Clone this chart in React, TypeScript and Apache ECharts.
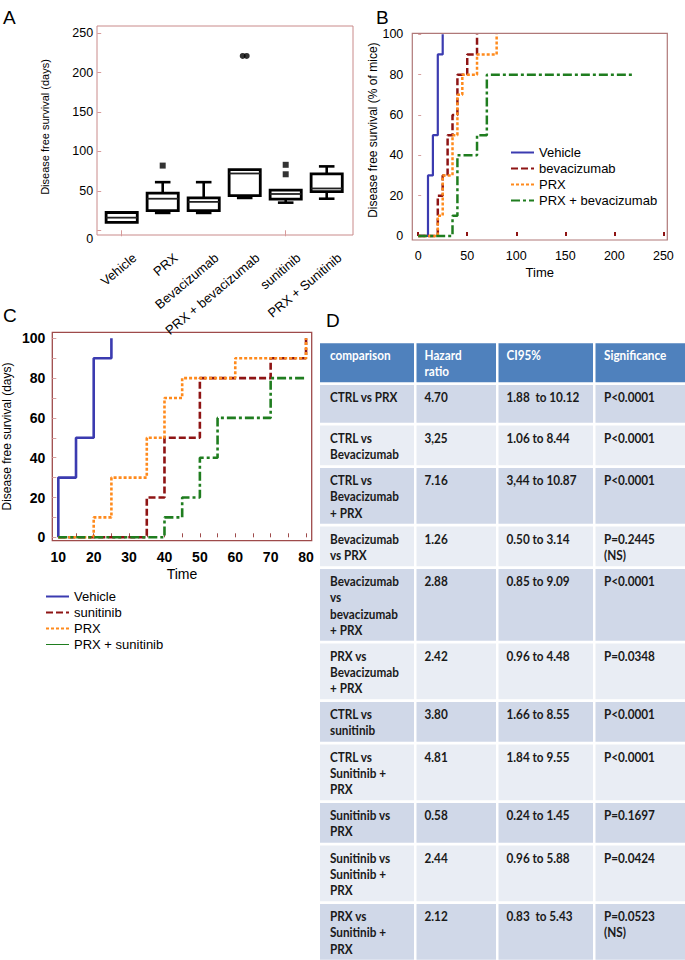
import React, { useEffect, useRef } from 'react';
import * as echarts from 'echarts';

const FONT = "'Liberation Sans', Arial, sans-serif";
const TFONT = "Lato, 'Open Sans', sans-serif";

// ---------- Panel A : box plot ----------
const boxCategories = ['Vehicle', 'PRX', 'Bevacizumab', 'PRX + bevacizumab', 'sunitinib', 'PRX + Sunitinib'];
// [min, Q1, median, Q3, max]
const boxStats = [
  [10, 10, 16, 22.5, 22.5],
  [22, 25, 40, 47, 61],
  [22, 25, 36, 41, 61],
  [41, 44, 72, 77, 77],
  [35, 39.5, 46, 51, 51],
  [40, 49, 53, 71.5, 81],
];
const boxOutliers = [[1, 82], [3, 221], [3, 221], [4, 83], [4, 71]];
const boxYTicks = [0, 50, 100, 150, 200, 250];

// ---------- Panel B : survival curves ----------
const bVehicle = [[0, 0], [10, 30], [15, 50], [20, 90], [25, 100]];
const bBevacizumab = [[0, 0], [20, 20], [25, 30], [30, 50], [35, 60], [40, 80], [50, 90], [60, 100]];
const bPRX = [[0, 0], [20, 10], [25, 30], [35, 50], [40, 70], [45, 80], [60, 90], [80, 100]];
const bPRXBev = [[0, 0], [35, 10], [40, 40], [60, 50], [70, 80], [220, 80]];
const bXTicks = [0, 50, 100, 150, 200, 250];
const bYTicks = [0, 20, 40, 60, 80, 100];

// ---------- Panel C : survival curves ----------
const cVehicle = [[10, 0], [10, 30], [15, 50], [20, 90], [25, 100]];
const cSunitinib = [[10, 0], [35, 20], [40, 50], [50, 80], [70, 90], [80, 100]];
const cPRX = [[10, 0], [20, 10], [25, 30], [35, 50], [40, 70], [45, 80], [60, 90], [80, 100]];
const cPRXSun = [[10, 0], [40, 10], [45, 20], [50, 40], [55, 60], [70, 80], [80, 80]];
const cXTicks = [10, 20, 30, 40, 50, 60, 70, 80];
const cXMinorTicks = [10, 15, 20, 25, 30, 35, 40, 45, 50, 55, 60, 65, 70, 75, 80];
const cYTicks = [0, 20, 40, 60, 80, 100];
const cYMinorTicks = [0, 10, 20, 30, 40, 50, 60, 70, 80, 90, 100];

// ---------- Panel D : table ----------
const tableHeader = ['comparison', 'Hazard\nratio', 'CI95%', 'Significance'];
const comparisons = [
  'CTRL vs PRX',
  'CTRL vs\nBevacizumab',
  'CTRL vs\nBevacizumab\n+ PRX',
  'Bevacizumab\nvs PRX',
  'Bevacizumab\nvs\nbevacizumab\n+ PRX',
  'PRX vs\nBevacizumab\n+ PRX',
  'CTRL vs\nsunitinib',
  'CTRL vs\nSunitinib +\nPRX',
  'Sunitinib vs\nPRX',
  'Sunitinib vs\nSunitinib +\nPRX',
  'PRX vs\nSunitinib +\nPRX',
];
const hazardRatios = ['4.70', '3,25', '7.16', '1.26', '2.88', '2.42', '3.80', '4.81', '0.58', '2.44', '2.12'];
const ci95 = ['1.88  to 10.12', '1.06 to 8.44', '3,44 to 10.87', '0.50 to 3.14', '0.85 to 9.09', '0.96 to 4.48', '1.66 to 8.55', '1.84 to 9.55', '0.24 to 1.45', '0.96 to 5.88', '0.83  to 5.43'];
const significance = ['P<0.0001', 'P<0.0001', 'P<0.0001', 'P=0.2445\n(NS)', 'P<0.0001', 'P=0.0348', 'P<0.0001', 'P<0.0001', 'P=0.1697', 'P=0.0424', 'P=0.0523\n(NS)'];

const BLUE = '#3b3bb0';
const DRED = '#8e1414';
const ORANGE = '#ff8a1c';
const GREEN = '#1f7d1f';

const A_YMIN = -6;
const A_YMAX = 259;

function buildTable(): any[] {
  const els: any[] = [];
  const colX = [320, 416.5, 498.5, 595.5];
  const colW = [94, 79.5, 94.5, 89.5];
  const pad = [10, 8, 8, 8.5];
  const gap = 2.7;
  const txt = (x: number, y: number, text: string, color: string) => ({
    type: 'text', x, y, scaleX: 0.87, silent: true,
    style: { text, fill: color, fontFamily: TFONT, fontWeight: 'bold', fontSize: 13.5, lineHeight: 16.2, align: 'left', verticalAlign: 'top' },
  });
  let top = 343.3;
  const headerH = 39;
  tableHeader.forEach((h, c) => {
    els.push({ type: 'rect', silent: true, shape: { x: colX[c], y: top, width: colW[c], height: headerH }, style: { fill: '#4f81bd' } });
    els.push(txt(colX[c] + pad[c], top + 4, h, '#ffffff'));
  });
  top += headerH + gap;
  comparisons.forEach((comp, r) => {
    const cells = [comp, hazardRatios[r], ci95[r], significance[r]];
    const n = Math.max(...cells.map((s) => s.split('\n').length));
    const pitch = n <= 1 ? 40.4 : 10.5 + 16 * n;
    const fill = r % 2 === 0 ? '#d0d8e8' : '#e9edf4';
    cells.forEach((s, c) => {
      els.push({ type: 'rect', silent: true, shape: { x: colX[c], y: top, width: colW[c], height: pitch - gap }, style: { fill } });
      els.push(txt(colX[c] + pad[c], top + 4.5, s, '#1a1a1a'));
    });
    top += pitch;
  });
  return els;
}

const letter = (t: string, x: number, y: number) => ({
  type: 'text', x, y, silent: true,
  style: { text: t, fill: '#000', fontFamily: FONT, fontSize: 19, align: 'left', verticalAlign: 'top' },
});

export default function App() {
  const ref = useRef<HTMLDivElement>(null);
  useEffect(() => {
    if (!ref.current) return;
    const chart = echarts.init(ref.current, null, { renderer: 'svg' });

    const seen: Record<string, number> = {};
    const outlierData = boxOutliers.map((p) => {
      const key = p.join(',');
      const dup = boxOutliers.filter((q) => q.join(',') === key).length > 1;
      if (!dup) return { value: p, symbol: 'rect' };
      seen[key] = (seen[key] || 0) + 1;
      return { value: p, symbol: 'circle', symbolOffset: [seen[key] === 1 ? -2 : 2, 0] };
    });

    const lineSeries = (name: string, data: number[][], idx: number, color: string, type: any, width = 2.5) => ({
      name, type: 'line', xAxisIndex: idx, yAxisIndex: idx, data, step: 'end', symbol: 'none', showSymbol: false,
      lineStyle: { color, width, type, cap: 'butt' }, itemStyle: { color }, silent: true,
    });

    const labelStyle = { color: '#000', fontFamily: FONT };
    const rot = (40 * Math.PI) / 180;

    const option: any = {
      animation: false,
      backgroundColor: '#fff',
      grid: [
        { left: 101.2, top: 26, width: 246, height: 209 },
        { left: 412.3, top: 33.3, width: 255, height: 206.7, show: true, borderColor: '#b07878', borderWidth: 1.2 },
        { left: 52.3, top: 332.3, width: 259.4, height: 208.4, show: true, borderColor: '#9e4a4a', borderWidth: 1.3 },
      ],
      xAxis: [
        {
          gridIndex: 0, type: 'category', data: boxCategories, offset: 3,
          axisLine: { show: false },
          axisTick: { show: true, alignWithLabel: true, length: 6, lineStyle: { color: '#d79a9a', width: 1 } },
          axisLabel: { show: false },
        },
        {
          gridIndex: 1, type: 'value', min: -6, max: 254,
          axisLine: { show: false }, splitLine: { show: false },
          axisTick: { show: true, inside: true, length: 4, customValues: bXTicks, lineStyle: { color: '#8e1414', width: 2 } },
          axisLabel: { ...labelStyle, fontSize: 12.5, margin: 9, customValues: bXTicks },
          name: 'Time', nameLocation: 'middle', nameGap: 26, nameTextStyle: { ...labelStyle, fontSize: 13 },
        },
        {
          gridIndex: 2, type: 'value', min: 8.3, max: 81.6,
          axisLine: { show: false }, splitLine: { show: false },
          axisTick: { show: true, inside: true, length: 4, customValues: cXMinorTicks, lineStyle: { color: '#9e4a4a', width: 1 } },
          axisLabel: { ...labelStyle, fontSize: 14, fontWeight: 'bold', margin: 9, customValues: cXTicks },
          name: 'Time', nameLocation: 'middle', nameGap: 26, nameTextStyle: { ...labelStyle, fontSize: 14 },
        },
      ],
      yAxis: [
        {
          gridIndex: 0, type: 'value', min: A_YMIN, max: A_YMAX, offset: 4,
          axisLine: { show: false }, splitLine: { show: false },
          axisTick: { show: true, inside: true, length: 4, customValues: boxYTicks, lineStyle: { color: '#d79a9a' } },
          axisLabel: {
            ...labelStyle, fontSize: 12.5, margin: 4, customValues: boxYTicks,
            formatter: (v: number) => (v === 0 ? '{z|0}' : String(v)),
            rich: { z: { padding: [18, 0, 0, 0], fontSize: 12.5, fontFamily: FONT, color: '#000' } },
          },
          name: 'Disease free survival (days)', nameLocation: 'middle', nameGap: 47,
          nameTextStyle: { ...labelStyle, fontSize: 11, padding: [0, 0, 0, 7] },
        },
        {
          gridIndex: 1, type: 'value', min: -2, max: 100.5,
          axisLine: { show: false }, splitLine: { show: false },
          axisTick: { show: true, inside: true, length: 3, customValues: bYTicks, lineStyle: { color: '#d7a0a0' } },
          axisLabel: { ...labelStyle, fontSize: 12.5, margin: 9, customValues: bYTicks },
          name: 'Disease free survival (% of mice)', nameLocation: 'middle', nameGap: 32,
          nameTextStyle: { ...labelStyle, fontSize: 12, padding: [0, 0, 0, 13] },
        },
        {
          gridIndex: 2, type: 'value', min: -1.7, max: 103,
          axisLine: { show: false }, splitLine: { show: false },
          axisTick: { show: true, inside: true, length: 4, customValues: cYMinorTicks, lineStyle: { color: '#d7a0a0' } },
          axisLabel: { ...labelStyle, fontSize: 14, fontWeight: 'bold', margin: 7, customValues: cYTicks },
          name: 'Disease free survival (days)', nameLocation: 'middle', nameGap: 39,
          nameTextStyle: { ...labelStyle, fontSize: 12 },
        },
      ],
      legend: [
        {
          left: 510, top: 146, orient: 'vertical', padding: 0, itemWidth: 23, itemHeight: 12, itemGap: 3,
          data: ['Vehicle', 'bevacizumab', 'PRX', 'PRX + bevacizumab'],
          itemStyle: { opacity: 0 },
          textStyle: { ...labelStyle, fontSize: 13 }, selectedMode: false,
        },
        {
          left: 45, top: 590, orient: 'vertical', padding: 0, itemWidth: 23, itemHeight: 12, itemGap: 3,
          data: ['Vehicle', 'sunitinib', 'PRX', { name: 'PRX + sunitinib', lineStyle: { width: 1, type: 'solid' } }],
          itemStyle: { opacity: 0 },
          textStyle: { ...labelStyle, fontSize: 13 }, selectedMode: false,
        },
      ],
      series: [
        {
          type: 'custom', xAxisIndex: 0, yAxisIndex: 0, silent: true,
          data: boxStats.map((s, i) => [i, ...s]),
          encode: { x: 0, y: [1, 2, 3, 4, 5] },
          renderItem: (params: any, api: any) => {
            const i = api.value(0);
            const lo = api.coord([i, api.value(1)]);
            const q1 = api.coord([i, api.value(2)]);
            const md = api.coord([i, api.value(3)]);
            const q3 = api.coord([i, api.value(4)]);
            const hi = api.coord([i, api.value(5)]);
            const band = api.size([1, 0])[0];
            const bw = band * 0.76;
            const cw = band * 0.38;
            const x = q1[0];
            const st = { stroke: '#000', lineWidth: 2.6, fill: null };
            const ch: any[] = [];
            if (q3[1] - hi[1] > 0.5) {
              ch.push({ type: 'line', shape: { x1: x, y1: hi[1], x2: x, y2: q3[1] }, style: st });
              ch.push({ type: 'line', shape: { x1: x - cw / 2, y1: hi[1], x2: x + cw / 2, y2: hi[1] }, style: st });
            }
            if (lo[1] - q1[1] > 0.5) {
              ch.push({ type: 'line', shape: { x1: x, y1: q1[1], x2: x, y2: lo[1] }, style: st });
              ch.push({ type: 'line', shape: { x1: x - cw / 2, y1: lo[1], x2: x + cw / 2, y2: lo[1] }, style: st });
            }
            ch.push({ type: 'rect', shape: { x: x - bw / 2, y: q3[1], width: bw, height: q1[1] - q3[1] }, style: { stroke: '#000', lineWidth: 2.8, fill: '#fff' } });
            ch.push({ type: 'line', shape: { x1: x - bw / 2, y1: md[1], x2: x + bw / 2, y2: md[1] }, style: { stroke: '#222', lineWidth: 1.8 } });
            return { type: 'group', children: ch };
          },
        },
        {
          // rotated category labels of panel A, placed through the category axis
          type: 'custom', xAxisIndex: 0, yAxisIndex: 0, silent: true, clip: false, z: 5,
          data: boxCategories.map((_, i) => [i, A_YMIN]),
          renderItem: (params: any, api: any) => {
            const p = api.coord([api.value(0), api.value(1)]);
            return {
              type: 'text', x: p[0] + 13, y: p[1] + 21, rotation: rot,
              style: { text: boxCategories[params.dataIndex], align: 'right', verticalAlign: 'middle', fontSize: 13, fontFamily: FONT, fill: '#000' },
            };
          },
        },
        {
          type: 'scatter', xAxisIndex: 0, yAxisIndex: 0, silent: true, symbolSize: 6,
          itemStyle: { color: '#000' }, data: outlierData,
        },
        lineSeries('Vehicle', bVehicle, 1, BLUE, 'solid', 2.2),
        lineSeries('bevacizumab', bBevacizumab, 1, DRED, [7, 3]),
        lineSeries('PRX', bPRX, 1, ORANGE, [3, 2]),
        lineSeries('PRX + bevacizumab', bPRXBev, 1, GREEN, [9, 3, 3, 3]),
        lineSeries('Vehicle', cVehicle, 2, BLUE, 'solid', 2.6),
        lineSeries('sunitinib', cSunitinib, 2, DRED, [7, 3], 2.6),
        lineSeries('PRX', cPRX, 2, ORANGE, [3, 2], 2.6),
        lineSeries('PRX + sunitinib', cPRXSun, 2, GREEN, [9, 3, 3, 3], 2.6),
      ],
      graphic: [
        { type: 'rect', silent: true, shape: { x: 97, y: 26, width: 256, height: 209 }, style: { fill: null, stroke: '#c98a8a', lineWidth: 1 } },
        letter('A', 3, 8),
        letter('B', 376, 8),
        letter('C', 3, 306),
        letter('D', 326, 311),
        ...buildTable(),
      ],
    };
    chart.setOption(option);
    return () => chart.dispose();
  }, []);
  return (
    <div
      ref={ref}
      style={{ position: 'absolute', left: 0, top: 0, width: 685, height: 960, background: '#fff' }}
    />
  );
}
